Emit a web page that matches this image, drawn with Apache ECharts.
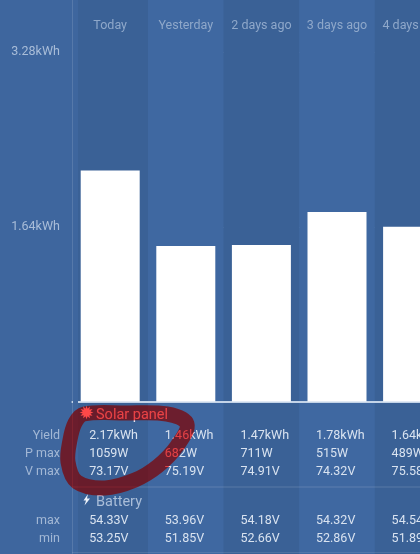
<!DOCTYPE html>
<html><head><meta charset="utf-8">
<style>html,body{margin:0;padding:0;background:#3e669e;overflow:hidden}#c{width:420px;height:554px}</style>
<script src="https://cdn.jsdelivr.net/npm/echarts@6/dist/echarts.min.js"></script>
</head><body><div id="c"></div>
<script>
const categories = ['Today','Yesterday','2 days ago','3 days ago','4 days ago'];
const yieldKWh = [2.17,1.46,1.47,1.78,1.64];
const pMaxW = [1059,682,711,515,489];
const vMaxV = [73.17,75.19,74.91,74.32,75.58];
const batteryMaxV = [54.33,53.96,54.18,54.32,54.54];
const batteryMinV = [53.25,51.85,52.66,52.86,51.89];
const rowLabels = ['Yield','P max','V max','max','min'];
const font = 'Roboto';
const rows = [
  {y:435.5, label:rowLabels[0], texts:yieldKWh.map(v=>v.toFixed(2)+'kWh')},
  {y:453.5, label:rowLabels[1], texts:pMaxW.map(v=>v+'W')},
  {y:471.5, label:rowLabels[2], texts:vMaxV.map(v=>v.toFixed(2)+'V')},
  {y:521, label:rowLabels[3], texts:batteryMaxV.map(v=>v.toFixed(2)+'V')},
  {y:538.5, label:rowLabels[4], texts:batteryMinV.map(v=>v.toFixed(2)+'V')}
];
const rowSeries = rows.map(r=>({
  type:'custom', coordinateSystem:'cartesian2d', silent:true, z:5, clip:false,
  data:r.texts.map((t,i)=>[i,0,t]),
  renderItem:(p,api)=>({type:'text',style:{
    x:api.coord([api.value(0),0])[0]-21, y:r.y,
    text:r.texts[api.value(0)], fill:'#d9e3f0',
    font:'12.5px '+font, textAlign:'left', textVerticalAlign:'middle'}})
}));
const t = (x,y,text,fill,size,align)=>({type:'text',z:20,silent:true,style:{x,y,text,fill,
  font:size+'px '+font,textAlign:align||'left',textVerticalAlign:'middle'}});
const ringPoints = [[84,414],[125,413],[167,414],[187,424],[177,446],[158,466],[135,480],[105,488],[77,482],[68,462],[70,440],[75,423]];
const chart = echarts.init(document.getElementById('c'),null,{renderer:'canvas'});
chart.setOption({
  animation:false,
  backgroundColor:'#3e669e',
  grid:{left:72.4,top:-122.5,width:378,height:698.7,containLabel:false,outerBoundsMode:'none'},
  xAxis:[{
    type:'category',data:categories,position:'bottom',
    axisLine:{onZero:true,lineStyle:{color:'#c4d4e8',width:2}},
    axisTick:{show:false},axisLabel:{show:false,interval:0},
    splitArea:{show:true,interval:0,areaStyle:{color:['#3a6196','#3f68a1']}},
    splitLine:{show:false}
  },{
    type:'category',data:categories,position:'top',offset:-148,
    axisLine:{show:false,onZero:false},axisTick:{show:false},
    axisLabel:{color:'#8fa8ca',fontFamily:font,fontSize:12.5,margin:0,verticalAlign:'middle',interval:0,hideOverlap:false}
  }],
  yAxis:{
    type:'value',min:-1.64,max:4.92,interval:1.64,
    axisLine:{show:true,lineStyle:{color:'#5679aa',width:1}},
    axisTick:{show:false},
    axisLabel:{color:'#a9bdd8',fontFamily:font,fontSize:12.5,margin:12.5,padding:[2,0,0,0],
      formatter:v=>v>0&&v<4?v.toFixed(2)+'kWh':''},
    splitLine:{show:true,lineStyle:{color:'rgba(255,255,255,0.16)',width:1}}
  },
  series:[{
    type:'bar',data:yieldKWh,barWidth:59,silent:true,z:3,
    itemStyle:{color:'#ffffff'}
  }].concat(rowSeries),
  graphic:{elements:[
    {type:'rect',z:1,silent:true,shape:{x:73,y:0,width:5,height:554},style:{fill:'#3e669e'}},
    {type:'line',z:1,silent:true,shape:{x1:72,y1:487,x2:420,y2:487},style:{stroke:'rgba(255,255,255,0.16)',lineWidth:1}},
    {type:'line',z:1,silent:true,shape:{x1:72,y1:552.5,x2:420,y2:552.5},style:{stroke:'rgba(255,255,255,0.1)',lineWidth:1}},
    t(60,435.5,rowLabels[0],'#a3b8d5',12.5,'right'),
    t(60,453.5,rowLabels[1],'#a3b8d5',12.5,'right'),
    t(60,471.5,rowLabels[2],'#a3b8d5',12.5,'right'),
    t(60,521,rowLabels[3],'#a3b8d5',12.5,'right'),
    t(60,538.5,rowLabels[4],'#a3b8d5',12.5,'right'),
    t(96,502,'Battery','#a9bdd8',14.5),
    t(96,415.5,'Solar panel','#e3e9f2',14.5),
    {type:'text',z:20,silent:true,style:{x:86.5,y:414,text:'\u2739',fill:'#ffffff',
      font:'18px "DejaVu Sans"',textAlign:'center',textVerticalAlign:'middle'}},
    {type:'polygon',z:20,silent:true,shape:{points:[[88,494],[83.5,500.5],[86,500.5],[84.5,505.5],[90,498.5],[87,498.5]]},style:{fill:'#eef3fa'}},
    {type:'polygon',z:30,silent:true,shape:{smooth:0.35,points:ringPoints},
      style:{fill:'none',stroke:'#ff4848',lineWidth:15,lineJoin:'round',blend:'multiply'}},
    {type:'polygon',z:31,silent:true,shape:{smooth:0.35,points:ringPoints},
      style:{fill:'none',stroke:'#3c0000',lineWidth:15,lineJoin:'round',blend:'screen'}}
  ]}
});
</script></body></html>
